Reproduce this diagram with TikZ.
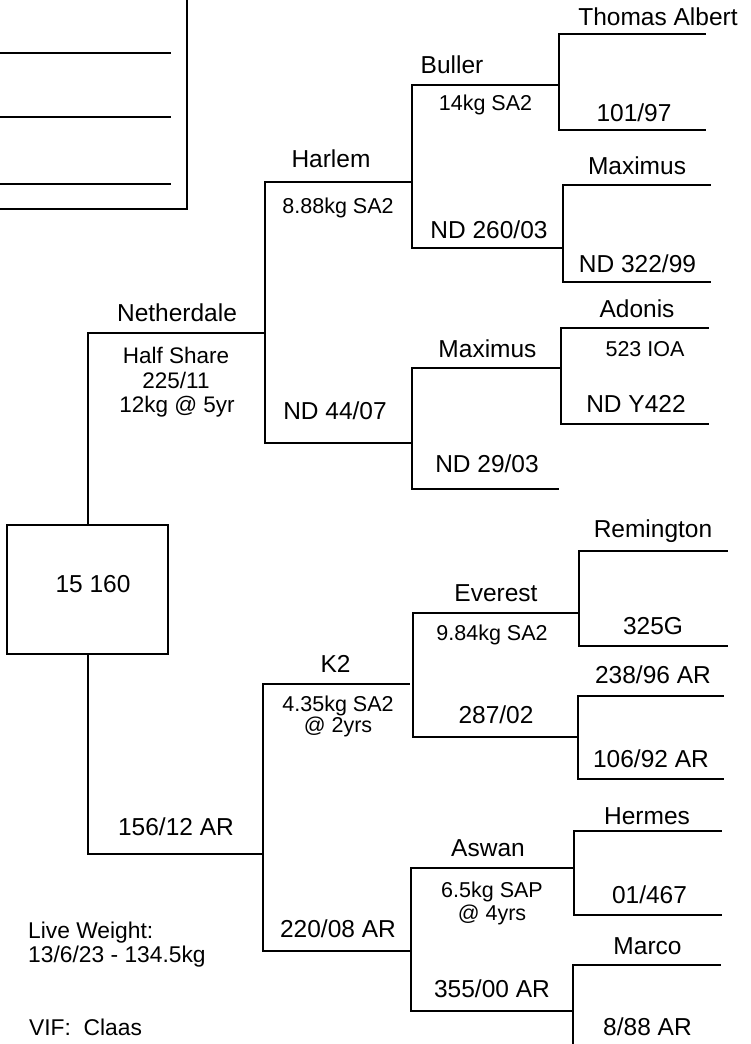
\documentclass[tikz,border=0pt]{standalone}
\usepackage{fontspec}
\setmainfont{Liberation Sans}
\begin{document}
\begin{tikzpicture}[x=1pt,y=-1pt,
  ln/.style={line width=1.6pt, line cap=rect},
  big/.style={inner sep=0pt, anchor=base, font=\fontsize{24.5}{28}\selectfont},
  sml/.style={inner sep=0pt, anchor=base, font=\fontsize{21.5}{24}\selectfont},
  mid/.style={inner sep=0pt, anchor=base, font=\fontsize{22.5}{25}\selectfont},
  note/.style={inner sep=0pt, anchor=base west, font=\fontsize{22.8}{25}\selectfont},
  rootbox/.style={draw, line width=2.2pt, minimum width=161pt, minimum height=129pt, inner sep=0pt}]
\useasboundingbox (0,0) rectangle (751,1044);
\clip (0,0) rectangle (751,1044);
\fill[white] (0,0) rectangle (751,1044);

% top-left box
\draw[line width=2.6pt] (-10,-10) rectangle (187,209);
\draw[line width=1.5pt] (0,53) -- (171,53);
\draw[line width=1.5pt] (0,117) -- (171,117);
\draw[line width=1.5pt] (0,184) -- (171,184);

% root
\node[rootbox] (root) at (87.5,589.5) {};
\node[big] (rootlbl) at (93,592) {15 160};

% ---- generation 1 ----
\coordinate (s1) at (88,333);
\coordinate (s1e) at (265,333);
\coordinate (d1) at (88,854);
\coordinate (d1e) at (263,854);
\draw[ln] (s1e) -- (s1) -- (s1 |- root.north);
\draw[ln] (root.south -| d1) -- (d1) -- (d1e);
\node[big] (netherdale) at (177,321) {Netherdale};
\node[mid] (hs1) at (176,363) {Half Share};
\node[mid] (hs2) at (176,388) {225/11};
\node[mid] (hs3) at (177,412) {12kg @ 5yr};
\node[big] (dam) at (176,835) {156/12 AR};

% ---- generation 2 ----
\draw[ln] (412,182) -- (265,182) -- (265,443) -- (412,443);
\node[big] (harlem) at (331,167) {Harlem};
\node[sml] (harlemw) at (338,213) {8.88kg SA2};
\node[big] (nd4407) at (335,419) {ND 44/07};

\draw[ln] (409,684) -- (263,684) -- (263,951) -- (411,951);
\node[big] (k2) at (335.5,672) {K2};
\node[sml] (k2a) at (338,711) {4.35kg SA2};
\node[sml] (k2b) at (338,732) {@ 2yrs};
\node[big] (d22008) at (338,937) {220/08 AR};

% ---- generation 3 ----
\draw[ln] (558,85) -- (412,85) -- (412,248) -- (562,248);
\node[big] (buller) at (452,73) {Buller};
\node[sml] (bullerw) at (485.5,110) {14kg SA2};
\node[big] (nd26003) at (489,238) {ND 260/03};

\draw[ln] (561,368) -- (412,368) -- (412,489) -- (558,489);
\node[big] (maximus2) at (487.5,357) {Maximus};
\node[big] (nd2903) at (487,472) {ND 29/03};

\draw[ln] (578,613) -- (413,613) -- (413,737) -- (577,737);
\node[big] (everest) at (496,601) {Everest};
\node[sml] (everestw) at (492,640) {9.84kg SA2};
\node[big] (s28702) at (496,723) {287/02};

\draw[ln] (574,868) -- (411,868) -- (411,1011) -- (573,1011);
\node[big] (aswan) at (488,856) {Aswan};
\node[sml] (aswana) at (492,897) {6.5kg SAP};
\node[sml] (aswanb) at (492,920) {@ 4yrs};
\node[big] (d35500) at (492,997) {355/00 AR};

% ---- generation 4 ----
\draw[ln] (705,34) -- (559,34) -- (559,130) -- (705,130);
\node[big] (thomas) at (658,25) {Thomas Albert};
\node[big] (d10197) at (634,121) {101/97};

\draw[ln] (710,185) -- (563,185) -- (563,282) -- (710,282);
\node[big] (maximus3) at (637,174) {Maximus};
\node[big] (nd32299) at (637.5,272) {ND 322/99};

\draw[ln] (708,328) -- (561,328) -- (561,424) -- (708,424);
\node[big] (adonis) at (637,317) {Adonis};
\node[sml] (ioa) at (645,356) {523 IOA};
\node[big] (ndy422) at (636,412) {ND Y422};

\draw[ln] (727,551) -- (579,551) -- (579,646) -- (727,646);
\node[big] (remington) at (653,537) {Remington};
\node[big] (g325) at (653,634) {325G};

\draw[ln] (723,696) -- (578,696) -- (578,779) -- (723,779);
\node[big] (s23896) at (653,683) {238/96 AR};
\node[big] (d10692) at (651,767) {106/92 AR};

\draw[ln] (721,831) -- (574,831) -- (574,915) -- (721,915);
\node[big] (hermes) at (647,824) {Hermes};
\node[big] (d01467) at (649.5,903) {01/467};

\draw[ln] (720,965) -- (573,965) -- (573,1060);
\node[big] (marco) at (647.5,954) {Marco};
\node[big] (d888) at (647.5,1035) {8/88 AR};

% notes
\node[note] (lw1) at (28,938) {Live Weight:};
\node[note] (lw2) at (28,962) {13/6/23 - 134.5kg};
\node[note] (vif) at (29,1035) {VIF:\ \ Claas};
\end{tikzpicture}
\end{document}
